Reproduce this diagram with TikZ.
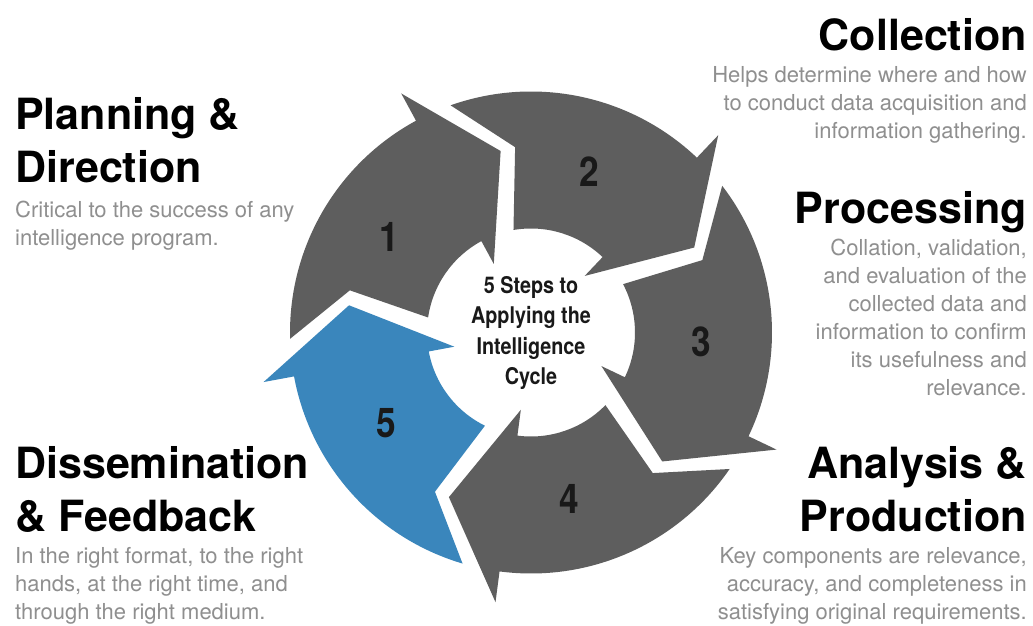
\documentclass[tikz,border=0pt]{standalone}
\usepackage{fontspec}
\setmainfont{TeX Gyre Heros}
\newfontfamily\condfont[FakeStretch=0.86]{TeX Gyre Heros}

\definecolor{arrowgray}{HTML}{5E5E5E}
\definecolor{arrowblue}{HTML}{3A86BC}
\definecolor{bodygray}{HTML}{8F8F8F}

\tikzset{
  headline/.style={inner sep=0pt, font=\bfseries\fontsize{43}{53}\selectfont, text=black},
  blurb/.style={inner sep=0pt, font=\fontsize{22}{28}\selectfont, text=bodygray},
  stepnum/.style={inner sep=0pt, font=\condfont\bfseries\fontsize{41}{41}\selectfont, text=black!90},
  hubtext/.style={inner sep=0pt, align=center, font=\condfont\bfseries\fontsize{23}{30.5}\selectfont, text=black!90}
}

\begin{document}
\begin{tikzpicture}[x=1pt, y=1pt]
  \useasboundingbox (0,0) rectangle (1033,626);
  \fill[white] (0,0) rectangle (1033,626);

  % the five ring arrows, centre of the ring shifted to the origin
  \begin{scope}[shift={(531,293.5)}]
    \foreach \k/\col/\numang in {1/arrowgray/146, 2/arrowgray/70, 3/arrowgray/-3, 4/arrowgray/-77, 5/arrowblue/-148} {
      \pgfmathsetmacro\barb{118.5-72*(\k-1)}
      \pgfmathsetmacro\back{\barb+72}
      \fill[\col] ({\back-9}:241pt) arc[start angle=\back-9, end angle=\barb, radius=241pt]
        -- (\barb:272pt) -- ({\barb-19}:184pt) -- (\barb:78pt) -- (\barb:104pt)
        arc[start angle=\barb, end angle=\back-18.8, radius=104pt]
        -- ({\back-23.6}:186pt) -- cycle;
      \node[stepnum] (num\k) at (\numang:171pt) {\k};
    }
  \end{scope}

  \node[hubtext] (hub) at (531,293) {5 Steps to\\Applying the\\Intelligence\\Cycle};

  % left column
  \node[headline, anchor=north west, align=left] (plan) at (15,529) {Planning \&\\Direction};
  \node[blurb, anchor=north west, align=left] (plantext) at (15,425) {Critical to the success of any\\intelligence program.};
  \node[headline, anchor=north west, align=left] (dissem) at (15,180) {Dissemination\\\& Feedback};
  \node[blurb, anchor=north west, align=left] (dissemtext) at (15,79) {In the right format, to the right\\hands, at the right time, and\\through the right medium.};

  % right column
  \node[headline, anchor=north east, align=right] (collect) at (1027,608) {Collection};
  \node[blurb, anchor=north east, align=right] (collecttext) at (1027,560) {Helps determine where and how\\to conduct data acquisition and\\information gathering.};
  \node[headline, anchor=north east, align=right] (process) at (1027,435) {Processing};
  \node[blurb, anchor=north east, align=right] (processtext) at (1027,387) {Collation, validation,\\and evaluation of the\\collected data and\\information to confirm\\its usefulness and\\relevance.};
  \node[headline, anchor=north east, align=right] (analysis) at (1027,180) {Analysis \&\\Production};
  \node[blurb, anchor=north east, align=right] (analysistext) at (1027,79) {Key components are relevance,\\accuracy, and completeness in\\satisfying original requirements.};
\end{tikzpicture}
\end{document}
